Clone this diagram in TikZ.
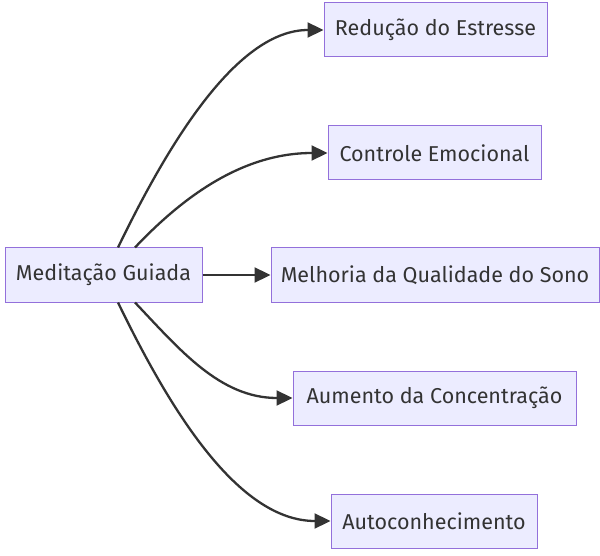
\documentclass[tikz,border=0pt]{standalone}
\usepackage{fontspec}
\setmainfont{Fira Sans}
\usetikzlibrary{arrows.meta}
\definecolor{boxfill}{HTML}{ECECFF}
\definecolor{boxline}{HTML}{9370DB}
\definecolor{ink}{HTML}{333333}
\tikzset{
  box/.style={draw=boxline, fill=boxfill, line width=1pt, text=ink,
    font=\fontsize{21.5}{25}\selectfont, inner sep=0pt, anchor=center},
  link/.style={draw=ink, line width=2.3pt, -{Triangle[length=16pt,width=15pt]}}
}
\begin{document}
\begin{tikzpicture}[x=1pt,y=-1pt]
\useasboundingbox (0,0) rectangle (600,556);
\node[box, minimum width=197pt, minimum height=54pt] (m) at (103.5,275) {Meditação Guiada};
\node[box, minimum width=223pt, minimum height=54pt] (r) at (435.5,30) {Redução do Estresse};
\node[box, minimum width=213pt, minimum height=54pt] (c) at (434.5,153) {Controle Emocional};
\node[box, minimum width=328pt, minimum height=54pt] (q) at (435,275) {Melhoria da Qualidade do Sono};
\node[box, minimum width=283pt, minimum height=54pt] (a) at (434.5,398) {Aumento da Concentração};
\node[box, minimum width=206pt, minimum height=54pt] (k) at (434,521) {Autoconhecimento};
\coordinate (m1) at ([xshift=14.5pt]m.north);
\coordinate (m2) at ([xshift=31.5pt]m.north);
\coordinate (m3) at ([xshift=31.5pt]m.south);
\coordinate (m4) at ([xshift=14.5pt]m.south);
\draw[link] (m1) .. controls (170,140) and (238,30) .. (r.west);
\draw[link] (m2) .. controls (180,200) and (240,153) .. (c.west);
\draw[link] (m.east) -- (q.west);
\draw[link] (m3) .. controls (180,350) and (220,398) .. (a.west);
\draw[link] (m4) .. controls (170,410) and (238,521) .. (k.west);
\end{tikzpicture}
\end{document}
